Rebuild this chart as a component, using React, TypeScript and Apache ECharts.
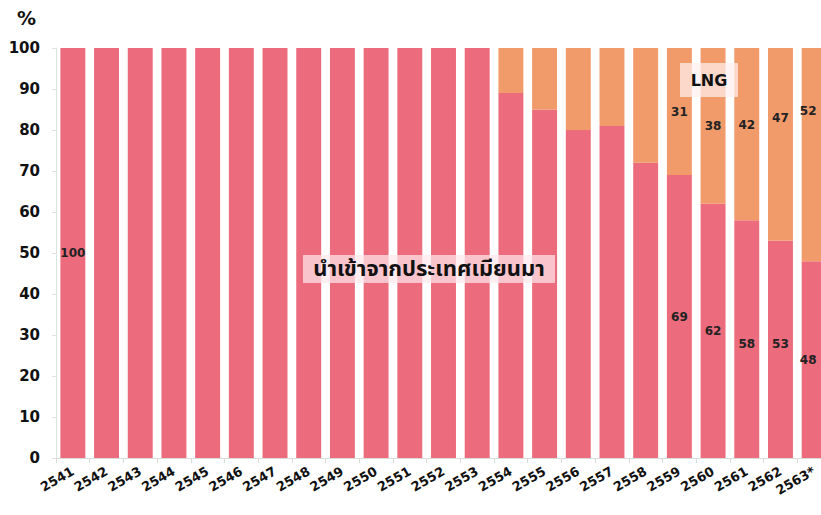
import React, { useEffect, useRef } from "react";
import * as echarts from "echarts";

const years = ["2541","2542","2543","2544","2545","2546","2547","2548","2549","2550","2551","2552","2553","2554","2555","2556","2557","2558","2559","2560","2561","2562","2563*"];
const myanmar = [100,100,100,100,100,100,100,100,100,100,100,100,100,89,85,80,81,72,69,62,58,53,48];
const lng = [0,0,0,0,0,0,0,0,0,0,0,0,0,11,15,20,19,28,31,38,42,47,52];
const myanmarLabelIdx = [0,18,19,20,21,22];
const myanmarLabelShift = [0,0,0,5,-5,0];
const lngLabelIdx = [18,19,20,21,22];
const lngLabelShift = [0,0,-9,-26,-44];
const yTicks = [0,10,20,30,40,50,60,70,80,90,100];

const PINK = "#EC6B7C";
const ORANGE = "#F19A6A";
const FONT = "'DejaVu Sans', Verdana, sans-serif";
const THAI = "Tahoma, 'Noto Sans Thai', 'Noto Sans Thai Looped', 'Noto Sans', sans-serif";

export default function App() {
  const ref = useRef<HTMLDivElement>(null);
  useEffect(() => {
    if (!ref.current) return;
    const chart = echarts.init(ref.current, undefined, { renderer: "svg" });
    const lblStyle = { fontFamily: FONT, fontWeight: "bold" as const, fontSize: 12, color: "#222" };
    const last = years.length - 1;
    const myData = myanmar.map((v, i) => {
      const k = myanmarLabelIdx.indexOf(i);
      return k >= 0
        ? { value: v, label: { show: true, position: "inside", offset: [i === last ? -6 : 0, myanmarLabelShift[k]], ...lblStyle } }
        : { value: v };
    });
    const lngData = lng.map((v, i) => {
      const k = lngLabelIdx.indexOf(i);
      return k >= 0
        ? { value: v, label: { show: true, position: "inside", offset: [i === last ? -6 : 0, lngLabelShift[k]], ...lblStyle } }
        : { value: v };
    });
    chart.setOption({
      animation: false,
      backgroundColor: "#ffffff",
      grid: { left: 56, right: 4, top: 48, bottom: 57, containLabel: false },
      xAxis: {
        type: "category",
        data: years,
        axisLine: { show: true, lineStyle: { color: "#d8dcd8" } },
        axisTick: { show: true, alignWithLabel: false, lineStyle: { color: "#d8dcd8" } },
        axisLabel: {
          rotate: 30,
          margin: 12,
          interval: 0,
          fontFamily: FONT,
          fontWeight: "bold",
          fontSize: 13,
          color: "#111",
        },
      },
      yAxis: {
        type: "value",
        min: 0,
        max: 100,
        interval: 10,
        splitLine: { show: false },
        axisLine: { show: true, lineStyle: { color: "#dde3de" } },
        axisTick: { show: true, length: 4, lineStyle: { color: "#dde3de" } },
        axisLabel: {
          margin: 16,
          fontFamily: FONT,
          fontWeight: "bold",
          fontSize: 15,
          color: "#111",
          formatter: (v: number) => (yTicks.includes(v) ? String(v) : ""),
        },
      },
      series: [
        {
          name: "นำเข้าจากประเทศเมียนมา",
          type: "bar",
          stack: "total",
          data: myData,
          barCategoryGap: "26%",
          itemStyle: { color: PINK },
          label: { show: false },
        },
        {
          name: "LNG",
          type: "bar",
          stack: "total",
          data: lngData,
          barCategoryGap: "26%",
          itemStyle: { color: ORANGE },
          label: { show: false },
        },
      ],
      graphic: [
        {
          type: "text",
          left: 17,
          top: 8,
          style: { text: "%", font: `bold 19px ${FONT}`, fill: "#111" },
        },
        {
          type: "rect",
          shape: { x: 303, y: 255, width: 252, height: 28 },
          style: { fill: "rgba(253,230,235,0.72)" },
          z: 10,
        },
        {
          type: "text",
          x: 429,
          y: 269,
          style: {
            text: "นำเข้าจากประเทศเมียนมา",
            font: `bold 22px ${THAI}`,
            fill: "#111",
            align: "center",
            verticalAlign: "middle",
          },
          z: 11,
        },
        {
          type: "rect",
          shape: { x: 680, y: 63, width: 58, height: 34 },
          style: { fill: "rgba(255,240,240,0.72)" },
          z: 10,
        },
        {
          type: "text",
          x: 709,
          y: 80,
          style: {
            text: "LNG",
            font: `bold 16px ${FONT}`,
            fill: "#111",
            align: "center",
            verticalAlign: "middle",
          },
          z: 11,
        },
      ],
    });
    return () => chart.dispose();
  }, []);
  return (
    <div style={{ width: 821, height: 515, position: "absolute", left: 0, top: 0, overflow: "hidden" }}>
      <div ref={ref} style={{ width: 835, height: 515 }} />
    </div>
  );
}
